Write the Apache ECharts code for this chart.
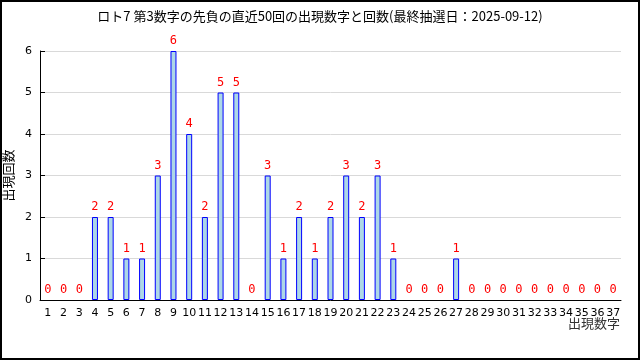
<!DOCTYPE html>
<html>
<head>
<meta charset="utf-8">
<script src="https://cdn.jsdelivr.net/npm/echarts@6/dist/echarts.min.js"></script>
<style>
html,body{margin:0;padding:0;background:#fff;}
#c{width:636px;height:356px;border:2px solid #000;}
</style>
</head>
<body>
<div id="c"></div>
<script>
const titleText = "ロト7 第3数字の先負の直近50回の出現数字と回数(最終抽選日：2025-09-12)";
const categories = ["1","2","3","4","5","6","7","8","9","10","11","12","13","14","15","16","17","18","19","20","21","22","23","24","25","26","27","28","29","30","31","32","33","34","35","36","37"];
const counts = [0,0,0,2,2,1,1,3,6,4,2,5,5,0,3,1,2,1,2,3,2,3,1,0,0,0,1,0,0,0,0,0,0,0,0,0,0];
const yName = "出現回数";
const xName = "出現数字";

const barData = counts.map(v => v === 0 ? {value: v, itemStyle: {borderWidth: 0}} : v);

const chart = echarts.init(document.getElementById('c'));
chart.setOption({
  animation: false,
  backgroundColor: '#fff',
  title: {
    text: titleText, left: 'center', top: 3,
    textStyle: {fontFamily: 'Noto Sans CJK JP', fontSize: 13, fontWeight: 'normal', color: '#000'}
  },
  grid: {left: 38, right: 17, top: 49, bottom: 58, containLabel: false, outerBoundsMode: 'none'},
  graphic: [{
    type: 'text', right: 18, top: 315,
    style: {text: xName, fontFamily: 'Noto Sans CJK JP', fontSize: 13, fill: '#333'}
  }],
  xAxis: {
    type: 'category', data: categories,
    axisLine: {lineStyle: {color: '#000', width: 1}},
    axisTick: {inside: true, length: 5, lineStyle: {color: '#000'}},
    axisLabel: {interval: 0, fontFamily: 'DejaVu Sans', fontSize: 11, color: '#000', margin: 8},
    splitLine: {show: false}
  },
  yAxis: {
    type: 'value', min: 0, max: 6, interval: 1,
    name: yName, nameLocation: 'middle', nameGap: 23,
    nameTextStyle: {fontFamily: 'Noto Sans CJK JP', fontSize: 13, color: '#000'},
    axisLine: {show: true, lineStyle: {color: '#000'}},
    axisTick: {show: true, inside: true, length: 5, lineStyle: {color: '#000'}},
    axisLabel: {fontFamily: 'DejaVu Sans', fontSize: 11, color: '#000', margin: 8},
    splitLine: {show: true, lineStyle: {color: '#d9d9d9'}}
  },
  series: [{
    type: 'bar', data: barData, barWidth: 6,
    itemStyle: {color: '#add8e6', borderColor: '#0000ff', borderWidth: 1},
    label: {show: true, position: 'top', distance: 4, color: '#ff0000', fontFamily: 'DejaVu Sans Mono', fontSize: 12}
  }]
});
</script>
</body>
</html>
